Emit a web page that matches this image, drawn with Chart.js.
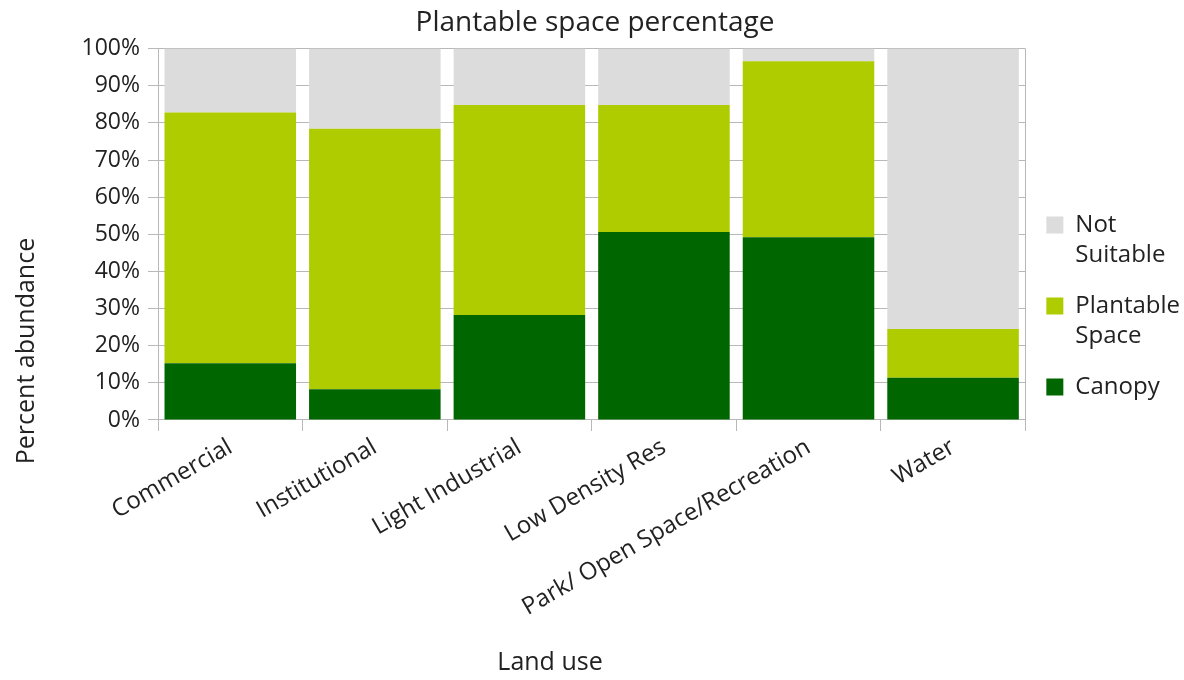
<!DOCTYPE html>
<html>
<head>
<meta charset="utf-8">
<script src="https://cdn.jsdelivr.net/npm/chart.js@4.4.1/dist/chart.umd.min.js"></script>
<style>
  html, body { margin: 0; padding: 0; background: #fff; }
  #wrap { width: 1184px; height: 680px; position: relative; }
</style>
</head>
<body>
<div id="wrap"><canvas id="spaceChart"></canvas></div>
<script>
// land use categories and stacked shares (%)
const landUses = ["Commercial", "Institutional", "Light Industrial", "Low Density Res", "Park/ Open Space/Recreation", "Water"];
const canopy = [15.3, 8.3, 28.3, 50.6, 49.2, 11.4];
const plantable = [67.5, 70.1, 56.5, 34.2, 47.4, 13.1];
const notSuitable = [17.2, 21.6, 15.2, 15.2, 3.4, 75.5];
const seriesNames = ["Canopy", "Plantable Space", "Not Suitable"];
const yTicks = [0, 10, 20, 30, 40, 50, 60, 70, 80, 90, 100];

const fontFamily = "'Open Sans', sans-serif";
const textColor = "#222222";
const lineColor = "#b8b8b8";

Chart.defaults.font.family = fontFamily;
Chart.defaults.color = textColor;

// axis titles drawn by hand so they sit where the original has them
const axisTitles = {
  id: "axisTitles",
  afterDraw(chart) {
    const ctx = chart.ctx;
    ctx.save();
    ctx.fillStyle = textColor;
    ctx.font = "25px " + fontFamily;
    ctx.textAlign = "center";
    ctx.textBaseline = "middle";
    ctx.fillText("Land use", 550, 663);
    ctx.translate(27, 351);
    ctx.rotate(-Math.PI / 2);
    ctx.fillText("Percent abundance", 0, 0);
    ctx.restore();
    // right edge of the plot frame
    const area = chart.chartArea;
    ctx.save();
    ctx.strokeStyle = lineColor;
    ctx.lineWidth = 1;
    ctx.beginPath();
    ctx.moveTo(Math.round(area.right) + 0.5, area.top);
    ctx.lineTo(Math.round(area.right) + 0.5, area.bottom);
    ctx.stroke();
    ctx.restore();
  }
};

let context = document.getElementById("spaceChart").getContext("2d");
let myChart = new Chart(context, {
  type: "bar",
  data: {
    labels: landUses,
    datasets: [
      { label: seriesNames[0], data: canopy, backgroundColor: "#006600" },
      { label: seriesNames[1], data: plantable, backgroundColor: "#afcc00" },
      { label: seriesNames[2], data: notSuitable, backgroundColor: "#dcdcdc" }
    ]
  },
  options: {
    responsive: true,
    maintainAspectRatio: false,
    animation: false,
    datasets: {
      bar: { barPercentage: 0.91, categoryPercentage: 1.0, borderWidth: 0 }
    },
    layout: { padding: { left: 0, right: -6, top: 0, bottom: 56 } },
    plugins: {
      title: {
        display: true,
        text: "Plantable space percentage",
        color: textColor,
        font: { size: 28, weight: "normal", lineHeight: 1.2 },
        padding: { top: 6, bottom: 9 }
      },
      legend: {
        position: "right",
        align: "end",
        fullSize: false,
        reverse: true,
        labels: {
          boxWidth: 17,
          boxHeight: 17,
          padding: 21,
          color: textColor,
          font: { size: 24, lineHeight: 1.25 },
          generateLabels(chart) {
            const items = Chart.defaults.plugins.legend.labels.generateLabels(chart);
            items.forEach(function(item) {
              if (item.text.indexOf(" ") > 0) item.text = item.text.split(" ");
            });
            return items;
          }
        }
      },
      tooltip: { enabled: false }
    },
    scales: {
      x: {
        stacked: true,
        grid: { display: true, drawOnChartArea: false, drawTicks: true, tickLength: 11, color: lineColor },
        border: { color: lineColor },
        ticks: {
          minRotation: 30,
          maxRotation: 30,
          autoSkip: false,
          padding: 2,
          color: textColor,
          font: { size: 24 }
        }
      },
      y: {
        stacked: true,
        min: 0,
        max: 100,
        afterBuildTicks(axis) {
          axis.ticks = yTicks.map(function(v) { return { value: v }; });
        },
        afterFit(axis) {
          axis.width = 158;
        },
        grid: { color: lineColor, tickLength: 10 },
        border: { color: lineColor },
        ticks: {
          padding: 8,
          color: textColor,
          font: { size: 23 },
          callback: function(value) { return value + "%"; }
        }
      }
    }
  },
  plugins: [axisTitles]
});
</script>
</body>
</html>
